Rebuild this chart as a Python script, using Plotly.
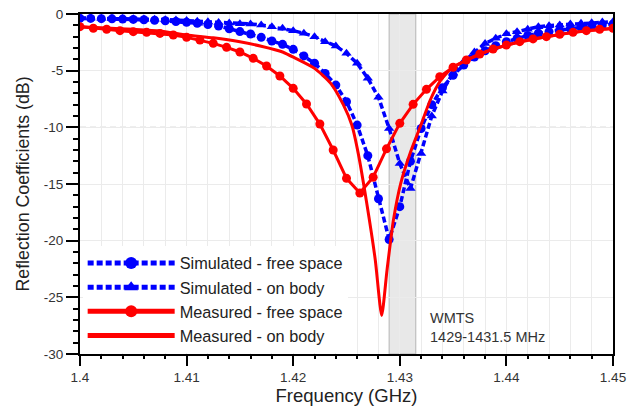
import plotly.graph_objects as go

# ---------------- data ----------------
sim_f = [1.400 + 0.001 * i for i in range(51)]
sim_free_db = [-0.38, -0.39, -0.41, -0.43, -0.45, -0.48, -0.51, -0.55, -0.60, -0.66,
               -0.73, -0.82, -0.93, -1.06, -1.30, -1.55, -1.76, -2.06, -2.38, -2.68,
               -3.12, -3.70, -4.35, -5.24, -6.27, -7.74, -9.80, -12.5, -16.3, -19.9,
               -17.0, -13.0, -10.1, -8.0, -6.5, -5.4, -4.5, -3.8, -3.25, -2.8,
               -2.45, -2.15, -1.9, -1.7, -1.55, -1.4, -1.28, -1.17, -1.07, -0.98, -0.9]
sim_body_db = [-0.35, -0.36, -0.37, -0.38, -0.40, -0.42, -0.44, -0.47, -0.50, -0.54,
               -0.58, -0.63, -0.68, -0.74, -0.80, -0.85, -0.88, -0.97, -1.12, -1.26,
               -1.47, -1.70, -2.00, -2.44, -2.82, -3.47, -4.35, -5.68, -7.35, -10.1,
               -13.2, -15.4, -12.3, -9.0, -6.8, -5.2, -4.2, -3.35, -2.6, -2.15,
               -1.75, -1.56, -1.35, -1.12, -1.03, -0.97, -0.88, -0.82, -0.77, -0.71, -0.68]

meas_free_f = [1.400 + 0.00125 * i for i in range(41)]
meas_free_db = [-1.12, -1.26, -1.35, -1.47, -1.56, -1.62, -1.71, -1.85, -2.06, -2.30,
                -2.59, -2.94, -3.35, -3.91, -4.59, -5.47, -6.56, -7.94, -9.71, -12.0,
                -14.5, -15.8, -14.4, -11.9, -9.65, -7.97, -6.65, -5.53, -4.70, -4.06,
                -3.53, -3.09, -2.74, -2.44, -2.20, -2.00, -1.79, -1.62, -1.47, -1.35, -1.26]

meas_body_f = [1.400, 1.4025, 1.405, 1.4075, 1.410, 1.4125, 1.415, 1.417, 1.419, 1.4202,
               1.422, 1.4235, 1.4247, 1.4255, 1.4261, 1.4269, 1.4277, 1.4283, 1.4288,
               1.4294, 1.4301, 1.4310, 1.4319, 1.4329, 1.4338, 1.4349, 1.4362, 1.4375,
               1.440, 1.4425, 1.445, 1.4475, 1.450]
meas_body_db = [-1.12, -1.24, -1.35, -1.50, -1.85, -2.10, -2.45, -2.85, -3.35, -3.90,
                -4.80, -6.10, -8.00, -9.80, -12.3, -16.7, -21.7, -26.6, -22.6,
                -18.2, -14.9, -12.2, -10.0, -7.5, -5.9, -4.75, -4.1, -3.55,
                -2.75, -2.22, -1.80, -1.50, -1.28]

x_ticks = [1.40, 1.41, 1.42, 1.43, 1.44, 1.45]
x_tick_labels = ["1.4", "1.41", "1.42", "1.43", "1.44", "1.45"]
y_ticks = [0, -5, -10, -15, -20, -25, -30]
y_tick_labels = ["0", "-5", "-10", "-15", "-20", "-25", "-30"]

band = [1.429, 1.4315]
threshold = -10

BLUE = "#0000ff"
RED = "#ff0000"
FONT = "Liberation Sans, Arial, sans-serif"

fig = go.Figure()

fig.add_trace(go.Scatter(
    x=sim_f, y=sim_free_db, mode="lines+markers", name="Simulated - free space",
    line=dict(color=BLUE, width=3.5, dash="6px,3px"),
    marker=dict(symbol="circle", size=9, color=BLUE)))
fig.add_trace(go.Scatter(
    x=sim_f, y=sim_body_db, mode="lines+markers", name="Simulated - on body",
    line=dict(color=BLUE, width=3.5, dash="6px,3px"),
    marker=dict(symbol="triangle-up", size=9, color=BLUE)))
fig.add_trace(go.Scatter(
    x=meas_free_f, y=meas_free_db, mode="lines+markers", name="Measured - free space",
    line=dict(color=RED, width=3),
    marker=dict(symbol="circle", size=9, color=RED)))
fig.add_trace(go.Scatter(
    x=meas_body_f, y=meas_body_db, mode="lines", name="Measured - on body",
    line=dict(color=RED, width=3, shape="spline", smoothing=0.6)))

fig.add_shape(type="rect", xref="x", yref="y", x0=band[0], x1=band[1], y0=-30, y1=0,
              fillcolor="#e8e8e8", line=dict(color="#b4b4b4", width=1), layer="below")
fig.add_shape(type="line", xref="x", yref="y", x0=1.4, x1=1.45, y0=threshold, y1=threshold,
              line=dict(color="#9a9a9a", width=1, dash="6px,4px"), layer="below")

fig.add_annotation(x=1.4326, y=-27.7, xref="x", yref="y", xanchor="left", yanchor="middle",
                   align="left", showarrow=False,
                   text="WMTS<br>1429-1431.5 MHz",
                   font=dict(family=FONT, size=14.5, color="#333333"))

fig.update_layout(
    width=628, height=407,
    margin=dict(l=80, r=15, t=14, b=53, autoexpand=False),
    paper_bgcolor="white", plot_bgcolor="white",
    font=dict(family=FONT, color="#222222"),
    showlegend=True,
    legend=dict(x=0.005, y=0.318, xanchor="left", yanchor="top",
                bgcolor="white", borderwidth=0,
                font=dict(family=FONT, size=16.3, color="#222222"),
                itemsizing="constant", itemwidth=87, tracegroupgap=0),
)

fig.update_xaxes(
    range=[1.4, 1.45], tickvals=x_ticks, ticktext=x_tick_labels, automargin=False,
    showline=True, linecolor="black", linewidth=2, mirror=True,
    ticks="outside", ticklen=10, tickwidth=2, tickcolor="black",
    tickfont=dict(family=FONT, size=13.5, color="#333333"),
    showgrid=True, gridcolor="#ebebeb", gridwidth=1, zeroline=False,
    minor=dict(dtick=0.002, tick0=1.4, showgrid=True, gridcolor="#ebebeb",
               ticks="outside", ticklen=3, tickcolor="black"),
    title=dict(text="Frequency (GHz)", font=dict(family=FONT, size=18.5, color="#222222"),
               standoff=4),
)
fig.update_yaxes(
    range=[-30, 0], tickvals=y_ticks, ticktext=y_tick_labels, automargin=False,
    showline=True, linecolor="black", linewidth=2, mirror=True,
    ticks="outside", ticklen=12, tickwidth=2, tickcolor="black",
    tickfont=dict(family=FONT, size=13.5, color="#333333"),
    showgrid=True, gridcolor="#ebebeb", gridwidth=1, zeroline=False,
    minor=dict(dtick=1, tick0=0, showgrid=False, ticks="outside", ticklen=5,
               tickwidth=2, tickcolor="black"),
    title=dict(text="Reflection Coefficients (dB)",
               font=dict(family=FONT, size=17.8, color="#222222"), standoff=10),
)

fig.write_html("out.html", config={"displayModeBar": False},
               post_script="document.body.style.margin='0';document.body.style.padding='0';")
